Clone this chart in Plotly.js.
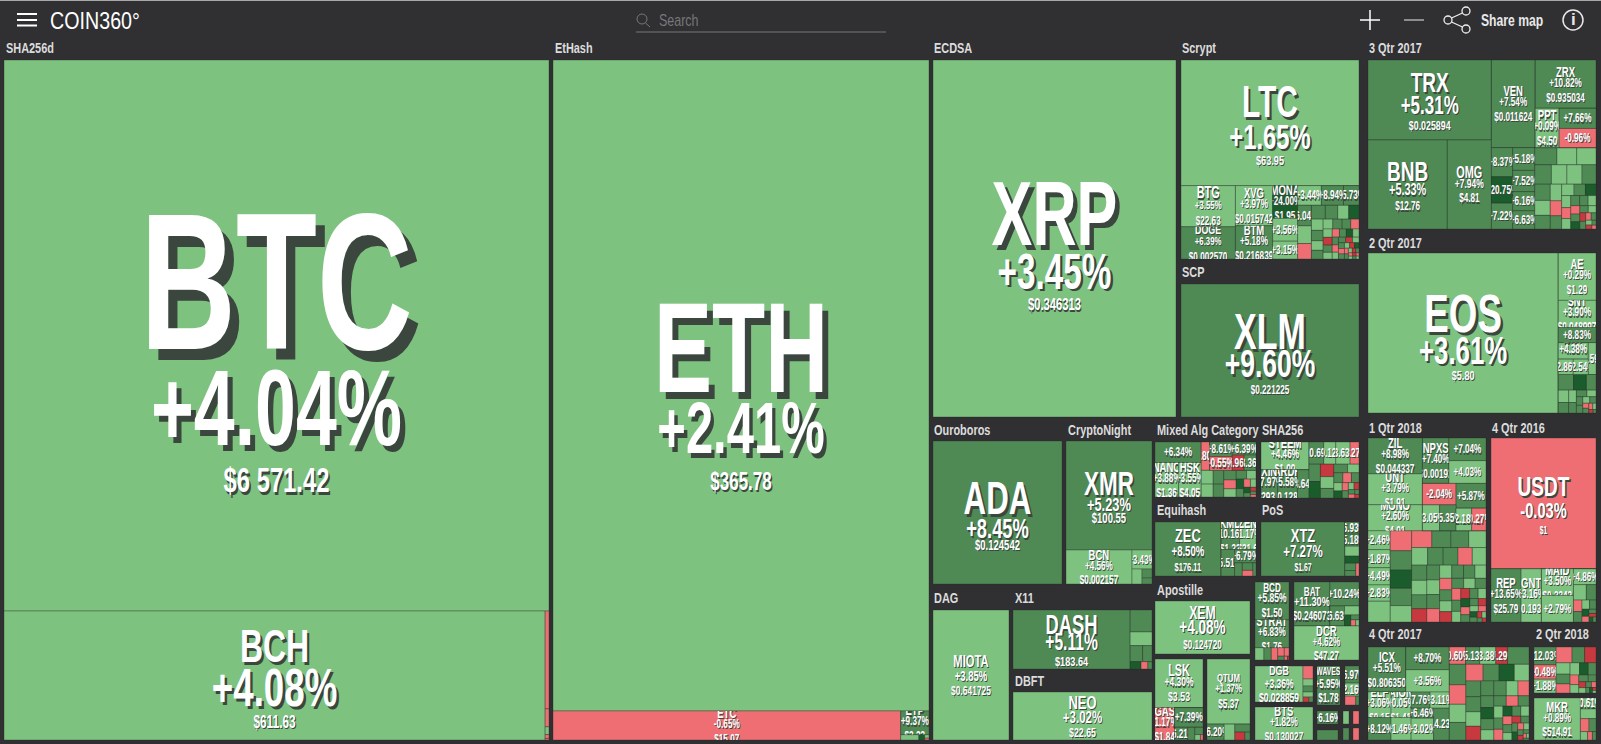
<!DOCTYPE html>
<html>
<head>
<meta charset="utf-8">
<script src="https://cdn.plot.ly/plotly-3.0.1.min.js"></script>
<style>html,body{margin:0;padding:0;background:#303033;overflow:hidden}#chart{width:1601px;height:744px}</style>
</head>
<body>
<div id="chart"></div>
<script>
// ---------- data: symbol, 24h change, price, block size, nesting ----------
const shaSym=['BTC','BCH'], shaChg=[4.04,4.08], shaPrice=['$6 571.42','$611.63'], shaCap=[300295,69800];
const shaTailCap=[380,70,30,15,6], shaTailChg=[-0.4,-0.6,2.1,-0.5,-1.2];
const ethSym=['ETH','ETC','ETP'], ethChg=[2.41,-0.65,9.37], ethPrice=['$365.78','$15.07','$2.23'], ethCap=[244400,10092,672];
const ethTailCap=[95,30,15,8], ethTailChg=[3.1,24,2.2,-0.4];
const xrpSym=['XRP'], xrpChg=[3.45], xrpPrice=['$0.346313'], xrpCap=[1];
const scrSym=['LTC','BTG','DOGE','XVG','BTM','MONA','','','','','',''], scrChg=[1.65,3.55,6.39,3.97,5.18,24,3.56,3.15,3.44,8.94,5.73,6.04];
const scrPrice=['$63.95','$22.63','$0.002570','$0.015742','$0.216839','$1.95','','','','','',''];
const scrCap=[22072,2214,1728,1476,1224,810,560,440,460,430,300,280];
const scrTailCap=[240,210,190,170,150,140,130,120,110,100,95,90,85,80,75,70,65,60,58,55,52,50,48,45,42,40,38,36,34,32,30,28,26,24,22,20,18,16,15,14,12,11,10,9,8];
const scrTailChg=[3,-1,6,7,3,25,2,6,3,7,3,6,7,-1,4,-6,7,3,-1,6,25,3,7,-1,2,6,-6,3,7,-1,6,3,-6,25,-1,7,3,-6,6,-1,2,-6,7,-1,3];
const xlmSym=['XLM'], xlmChg=[9.60], xlmPrice=['$0.221225'], xlmCap=[1];
const adaSym=['ADA'], adaChg=[8.45], adaPrice=['$0.124542'], adaCap=[1];
const xmrSym=['XMR','BCN',''], xmrChg=[5.23,4.56,3.43], xmrPrice=['$100.55','$0.002157',''], xmrCap=[9374,2244,380];
const xmrTailCap=[150,90,60], xmrTailChg=[3,7,6];
const mixSym=['','NANO','HSK','','','','','',''], mixChg=[6.34,3.88,3.55,-0.8,8.61,-0.55,6.39,-5.96,8.36];
const mixPrice=['','$1.36','$4.05','','','','','',''], mixCap=[1050,884,850,260,360,340,340,200,200];
const mixPath=['l','l/n','l/n','r/a','r/a/b','r/a/b','r/a/b','r/a/b','r/a/b'];
const mixTailCap=[180,170,160,150,130,120,110,100,90,80,70,60,50,40,30,25,20,15];
const mixTailChg=[3,3,7,6,7,-1,3,6,3,25,7,-1,3,25,6,-6,7,-1];
const sh2Sym=['STEEM','XIN','ARDR','','','','',''], sh2Chg=[4.46,7.97,5.58,8.64,10.69,0.12,3.63,-2.27];
const sh2Price=['$1.00','$293.6','$0.1284','','','','',''], sh2Cap=[1352,476,560,330,330,270,320,200];
const sh2Path=['l','l/n','l/n','l/n','r/a','r/a','r/a','r/a'];
const sh2TailCap=[200,190,170,160,130,120,100,90,85,75,70,60,50,45,40,35,30,25,20,15];
const sh2TailChg=[7.59,26,-6,3,7,6,3,7,-1,6,3,25,-1,7,3,-6,6,-1,7,-6];
const eqhSym=['ZEC','KMD','ZEN','',''], eqhChg=[8.50,10.16,1.17,5.51,6.79], eqhPrice=['$176.11','$1.33','$21.6','',''], eqhCap=[3564,504,448,360,288];
const eqhPath=['','r/a','r/a','r/b','r/b'];
const eqhTailCap=[100,80,60,40], eqhTailChg=[7,6,-1,7];
const posSym=['XTZ','',''], posChg=[7.27,6.93,5.18], posPrice=['$1.67','',''], posCap=[4536,170,170];
const posPath=['','r','r'];
const posTailCap=[140,100,80,60,40], posTailChg=[3,25,7,6,-1];
const iotSym=['MIOTA'], iotChg=[3.85], iotPrice=['$0.641725'], iotCap=[1];
const dshSym=['DASH'], dshChg=[5.11], dshPrice=['$183.64'], dshCap=[6903];
const dshTailCap=[480,300,200,150,80,50,30], dshTailChg=[7,3,6,7,25,-1,6];
const neoSym=['NEO'], neoChg=[3.02], neoPrice=['$22.65'], neoCap=[1];
const xemSym=['XEM'], xemChg=[4.08], xemPrice=['$0.124720'], xemCap=[1];
const lskSym=['LSK','GAS','',''], lskChg=[4.30,-1.17,7.39,6.21], lskPrice=['$3.53','$1.84','',''], lskCap=[2352,640,560,170];
const lskPath=['','r','r/s','r/s/t'];
const lskTailCap=[90,60,30,14], lskTailChg=[7,6,3,-1];
const qtmSym=['QTUM',''], qtmChg=[1.37,6.20], qtmPrice=['$5.37',''], qtmCap=[2795,272];
const qtmPath=['','r'];
const qtmTailCap=[170,120,80,40], qtmTailChg=[3,7,-7,6];
const bcdSym=['BCD','STRAT'], bcdChg=[5.85,6.83], bcdPrice=['$1.50','$1.76'], bcdCap=[1292,952];
const bcdTailCap=[110,90,80,55,40,25,12,6], bcdTailChg=[3,7,-1,-1,-1,7,-1,-6];
const batSym=['BAT','',''], batChg=[11.30,10.24,6.63], batPrice=['$0.246073','',''], batCap=[1584,696,290];
const batPath=['','r','r/s'];
const batTailCap=[130,70,40,30,20], batTailChg=[3,25,6,-1,3];
const dcrSym=['DCR'], dcrChg=[4.62], dcrPrice=['$47.27'], dcrCap=[1];
const dgbSym=['DGB'], dgbChg=[3.36], dgbPrice=['$0.028859'], dgbCap=[1728];
const dgbTailCap=[130,70,60,50,30,20], dgbTailChg=[-1,3,7,3,-6,6];
const btsSym=['BTS'], btsChg=[1.82], btsPrice=['$0.130027'], btsCap=[1];
const wavSym=['WAVES'], wavChg=[5.95], wavPrice=['$1.78'], wavCap=[1];
const xzcSym=['',''], xzcChg=[6.97,2.16], xzcPrice=['',''], xzcCap=[250,190];
const xzcTailCap=[100,30], xzcTailChg=[-1,7];
const q3Sym=['TRX','BNB','OMG','VEN','ZRX','PPT','','','','','','','','',''];
const q3Chg=[5.31,5.33,7.94,7.54,10.82,0.09,7.66,-0.96,8.37,20.75,7.22,5.18,7.52,6.16,6.63];
const q3Price=['$0.025894','$12.76','$4.81','$0.011624','$0.935034','$4.50','','','','','','','','',''];
const q3Cap=[9840,7031,3916,3828,2928,936,740,703,620,560,550,500,470,420,400];
const q3Path=['a','a/x','a/x','b/t','b/t/z','b/t/z/w','b/t/z/w/k','b/t/z/w/k','b/d','b/d','b/d','b/d','b/d','b/d','b/d'];
const q3TailCap=[380,340,330,320,300,290,270,250,230,210,190,170,150,140,130,120,110,100,95,90,85,80,75,70,65,60,55,50,45,40,35,30,25,20,15];
const q3TailChg=[7,1.3,1.4,7,2,3,7,6,3,8,3,-1,7,3,6,25,3,-1,2,6,7,3,-1,6,25,7,3,-6,7,-1,6,3,-6,7,-1];
const q2Sym=['EOS','AE','SNT','','BNT','','',''], q2Chg=[3.61,0.29,3.90,8.83,4.38,2.86,2.54,3.59];
const q2Price=['$5.80','$1.29','$0.048997','','$1.87','','',''], q2Cap=[30400,1786,1026,570,494,230,230,247];
const q2Path=['','r','r','r','r/s','r/s/u','r/s/u','r/s'];
const q2TailCap=[240,200,150,130,110,95,80,70,60,55,50,45,40,30,28,25,20,15,10];
const q2TailChg=[7,25,6,3,7,3,6,7,3,6,7,3,6,-1,7,-1,3,-6,6];
const q1Sym=['ZIL','UNT','MONO','NPXS','','','','','','','','','','','',''];
const q1Chg=[8.98,3.79,2.60,7.40,7.04,4.03,-2.04,3.05,5.35,5.87,2.18,-0.27,2.46,1.87,4.49,2.83];
const q1Price=['$0.044337','$1.91','$4.01','$0.00192','','','','','','','','','','','',''];
const q1Cap=[1944,1674,1404,1200,836,836,720,440,420,740,350,320,420,400,380,360];
const q1Path=['t/l','t/l','t/l','t/m/a','t/m/a/k','t/m/a/k','t/m/n/a','t/m/n/a/p','t/m/n/a/p','t/m/n/b','t/m/n/b/p','t/m/n/b/p','b','b','b','b'];
const q1TailCap=[460,430,410,390,370,350,340,320,300,290,280,270,260,250,240,230,220,210,200,190,185,180,170,160,155,150,145,140,135,130,125,120,115,110,105,100,95,90,85,80,75,70,65,60,55,50,45,40,35,30,25,20,15];
const q1TailChg=[3,-1,7,26,6,3,-1,7,6,3,3,7,6,-1,3,7,3,6,-5,7,3,6,-1,3,7,6,3,-1,7,3,-5,6,3,7,-1,6,3,-6,7,3,25,-1,6,7,-6,3,-1,25,6,-6,3,7,-6];
const q16Sym=['USDT','REP','GNT','MAID','',''], q16Chg=[-0.03,13.65,3.16,3.50,2.79,4.86], q16Price=['$1','$25.79','$0.1933','$0.3342','',''], q16Cap=[13860,1612,1092,858,858,360];
const q16Path=['','b','b','b/s/m','b/s/m','b/s/r'];
const q16TailCap=[200,150,100,90,70,60,50,40,30,25,20,15], q16TailChg=[3,7,-1,6,3,7,25,-1,6,-6,25,7];
const q4Sym=['ICX','','','ELF','AION','','','','','','','','','','',''];
const q4Chg=[5.51,8.70,3.56,3.06,0.05,8.12,1.46,7.76,3.11,6.46,3.02,14.23,-0.60,5.13,3.38,-5.29];
const q4Price=['$0.806350','','','$0.15','$1.41','','','','','','','','','','',''];
const q4Cap=[1665,960,940,575,500,506,440,300,300,220,480,480,280,240,270,200];
const q4Path=['l/t','l/t/x','l/t/x','l/b/p','l/b/p','l/b/p','l/b/p','l/b/q','l/b/q','l/b/q','l/b/q','l/b/q','r','r','r','r'];
const q4TailCap=[360,340,320,300,290,280,260,250,240,230,220,210,200,190,180,170,160,150,145,140,130,125,120,110,105,100,95,90,85,80,75,70,65,60,55,50,45,40,35,30,25,20,15,12,10];
const q4TailChg=[6,7,-1,3,6,-1,7,25,3,6,7,3,-6,7,6,3,-1,7,25,6,3,7,-1,6,3,7,-1,25,6,3,-1,7,3,-6,6,7,25,-1,3,7,-6,6,-1,3,7];
const q18Sym=['','',''], q18Chg=[12.03,-0.48,1.88], q18Price=['','',''], q18Cap=[375,300,290];
const q18TailCap=[240,190,170,150,130,120,110,100,90,80,70,60,50,40,35,30,25,20,15,10,8];
const q18TailChg=[-1,7,-6,3,7,-1,3,25,6,-1,3,7,6,-6,3,7,-1,6,25,-6,3];
const mkrSym=['MKR',''], mkrChg=[0.89,0.61], mkrPrice=['$514.91',''], mkrCap=[1932,170];
const mkrTailCap=[150,110,90,60,40,30], mkrTailChg=[3,-1,7,3,-1,7];

// ---------- layout of the blocks (pixels: x0,y0,x1,y1), nesting of labelled cells, nesting of the rest ----------
const blocks=[
 [shaSym,shaChg,shaPrice,shaCap,shaTailCap,shaTailChg,[4,60,549,740]],
 [ethSym,ethChg,ethPrice,ethCap,ethTailCap,ethTailChg,[553,60,929,740]],
 [xrpSym,xrpChg,xrpPrice,xrpCap,[],[],[933,60,1176,417]],
 [scrSym,scrChg,scrPrice,scrCap,scrTailCap,scrTailChg,[1181,60,1359,259]],
 [xlmSym,xlmChg,xlmPrice,xlmCap,[],[],[1181,284,1359,417]],
 [adaSym,adaChg,adaPrice,adaCap,[],[],[933,441,1062,584]],
 [xmrSym,xmrChg,xmrPrice,xmrCap,xmrTailCap,xmrTailChg,[1066,441,1152,584]],
 [mixSym,mixChg,mixPrice,mixCap,mixTailCap,mixTailChg,[1155,442,1256,497],mixPath,'r/c'],
 [sh2Sym,sh2Chg,sh2Price,sh2Cap,sh2TailCap,sh2TailChg,[1261,442,1359,498],sh2Path,'r/c'],
 [eqhSym,eqhChg,eqhPrice,eqhCap,eqhTailCap,eqhTailChg,[1155,522,1256,576],eqhPath,'r/b'],
 [posSym,posChg,posPrice,posCap,posTailCap,posTailChg,[1261,522,1359,576],posPath,'r'],
 [iotSym,iotChg,iotPrice,iotCap,[],[],[933,610,1009,740]],
 [dshSym,dshChg,dshPrice,dshCap,dshTailCap,dshTailChg,[1013,610,1152,669]],
 [neoSym,neoChg,neoPrice,neoCap,[],[],[1013,692,1152,740]],
 [xemSym,xemChg,xemPrice,xemCap,[],[],[1155,601,1250,654]],
 [lskSym,lskChg,lskPrice,lskCap,lskTailCap,lskTailChg,[1155,659,1203,740],lskPath,'r/s/t'],
 [qtmSym,qtmChg,qtmPrice,qtmCap,qtmTailCap,qtmTailChg,[1207,659,1250,740],qtmPath,'r'],
 [bcdSym,bcdChg,bcdPrice,bcdCap,bcdTailCap,bcdTailChg,[1255,582,1289,660]],
 [batSym,batChg,batPrice,batCap,batTailCap,batTailChg,[1294,582,1359,626],batPath,'r/s'],
 [dcrSym,dcrChg,dcrPrice,dcrCap,[],[],[1294,626,1359,660]],
 [dgbSym,dgbChg,dgbPrice,dgbCap,dgbTailCap,dgbTailChg,[1255,666,1313,702]],
 [btsSym,btsChg,btsPrice,btsCap,[],[],[1255,707,1313,740]],
 [wavSym,wavChg,wavPrice,wavCap,[],[],[1317,666,1340,705]],
 [xzcSym,xzcChg,xzcPrice,xzcCap,xzcTailCap,xzcTailChg,[1345,666,1359,705]],
 [[''],[6.16],[''],[1],[],[],[1317,711,1338,724]],
 [[],[],[],[],[1],[7.1],[1317,730,1338,740]],
 [[],[],[],[],[1],[3.2],[1343,711,1349,724]],
 [[],[],[],[],[1],[-1.4],[1353,711,1359,724]],
 [[],[],[],[],[1],[6.4],[1343,728,1349,740]],
 [[],[],[],[],[1],[-1.1],[1353,728,1359,740]],
 [q3Sym,q3Chg,q3Price,q3Cap,q3TailCap,q3TailChg,[1368,60,1596,229],q3Path,'b/d'],
 [q2Sym,q2Chg,q2Price,q2Cap,q2TailCap,q2TailChg,[1368,253,1596,413],q2Path,'r/t'],
 [q1Sym,q1Chg,q1Price,q1Cap,q1TailCap,q1TailChg,[1368,438,1486,622],q1Path,'b'],
 [q16Sym,q16Chg,q16Price,q16Cap,q16TailCap,q16TailChg,[1491,438,1596,622],q16Path,'b/s/r'],
 [q4Sym,q4Chg,q4Price,q4Cap,q4TailCap,q4TailChg,[1368,647,1529,740],q4Path,'r'],
 [q18Sym,q18Chg,q18Price,q18Cap,q18TailCap,q18TailChg,[1534,647,1596,693]],
 [mkrSym,mkrChg,mkrPrice,mkrCap,mkrTailCap,mkrTailChg,[1534,698,1596,740]]
];
const groupTitles=['SHA256d','EtHash','ECDSA','Scrypt','3 Qtr 2017','SCP','2 Qtr 2017','Ouroboros','CryptoNight','Mixed Alg Category','SHA256','1 Qtr 2018','4 Qtr 2016','Equihash','PoS','DAG','X11','Apostille','DBFT','4 Qtr 2017','2 Qtr 2018'];
const groupTitlePos=[[4,48],[553,48],[932,48],[1180,48],[1367,48],[1180,272],[1367,243],[932,430],[1066,430],[1155,430],[1260,430],[1367,428],[1490,428],[1155,510],[1260,510],[932,598],[1013,598],[1155,590],[1013,681],[1367,634],[1534,634]];

// label styles: symbol px, percent px, price px, gap symbol-percent, gap percent-price
const labelStyle={BTC:[195,108,35,97,48],ETH:[128,72,25,60,37],XRP:[90,49,16.5,43,22],LTC:[44,35,13.5,30,16],XLM:[50,39,12,29,17],
 EOS:[54,38,13.5,33,16],BCH:[47,54,17.5,42,22],ADA:[46,27,14,23,12],XMR:[33,19,14,16,12],BCN:[14,12,12,11,15],MIOTA:[16.5,14,12.5,15,14],DASH:[27,23,13.5,18,16],
 NEO:[19,17,13,16,14],XEM:[18,20,12,17,15],ZEC:[19,14,11,13,15],XTZ:[19,17,10,15,15],TRX:[28,25,13,21,16],BNB:[28,16,12,15,15],
 OMG:[16,12.5,12,12,15],USDT:[28,21.5,10,20,16],LSK:[16,12.5,13,12,15],QTUM:[11.5,11.5,12,11,16],BCD:[12,12.5,12,11,15],BAT:[12,13.5,12,11,15],
 DGB:[13,12.5,12.5,13,14],WAVES:[10,12,12,12,14],BTG:[16,11.5,12,11,16],DOGE:[13,11.5,12,11,16]};
const defaultStyle=[14,12,12,11,15];
const FONT='"Liberation Sans",Arial,sans-serif';
const BG='#303033';
const TEXT_SQUEEZE=0.68;

function colorOf(c){
  if(c<=-3) return '#c8383f';
  if(c<0) return '#ee6e73';
  if(c<5) return '#7dc27f';
  if(c<20) return '#4f8a55';
  return '#1b5c2c';
}
function fmt(c){return (c>=0?'+':'')+c.toFixed(2)+'%';}
function span(t,f){
  const dx=Math.max(1,0.06*f).toFixed(1),dy=Math.max(1,0.052*f).toFixed(1);
  return `<span style="font-size:${f}px;text-shadow:${dx}px ${dy}px 0 #3b463e">${t}</span>`;
}
function labelOf(sym,chg,price){
  if(sym){
    const st=labelStyle[sym]||defaultStyle;
    const step=st[4]/3, a=Math.max(1,Math.round(st[3]/step));
    return {text:span(sym,st[0])+'<br>'.repeat(a)+span(fmt(chg),st[1])+'<br>'.repeat(3)+span(price,st[2]),size:step/1.3};
  }
  return {text:span(fmt(chg),12),size:12};
}

const traces=blocks.map((b,i)=>{
  const [sym,chg,price,cap,tailCap,tailChg,r,paths,tailPath]=b;
  const root='g'+i;
  const ids=[root],labels=[''],parents=[''],values=[0],colors=[BG],texts=[''],sizes=[10];
  const node=(path)=>{
    let cur=root;
    (path||'').split('/').filter(Boolean).forEach(seg=>{
      const next=cur+'/'+seg;
      if(!ids.includes(next)){ids.push(next);labels.push(next);parents.push(cur);values.push(0);colors.push(BG);texts.push('');sizes.push(10);}
      cur=next;
    });
    return cur;
  };
  const add=(id,parent,v,c,l)=>{ids.push(id);labels.push(id);parents.push(parent);values.push(v);colors.push(colorOf(c));texts.push(l.text);sizes.push(l.size);};
  sym.forEach((s,k)=>{const p=node(paths?paths[k]:'');add(root+'#c'+k,p,cap[k],chg[k],labelOf(s,chg[k],price[k]));});
  tailCap.forEach((v,k)=>{const p=node(tailPath);add(root+'#t'+k,p,v,tailChg[k],{text:'',size:10});});
  return {
    type:'treemap',ids,labels,parents,values,text:texts,textinfo:'text',branchvalues:'remainder',sort:false,
    textposition:'middle center',hoverinfo:'skip',
    textfont:{family:FONT,size:sizes,color:'#ffffff',weight:700,shadow:'none'},
    marker:{colors,line:{color:'rgba(40,50,40,0.35)',width:1},pad:{t:0,l:0,r:0,b:0},depthfade:false},
    tiling:{packing:'squarify',squarifyratio:1,pad:0},
    pathbar:{visible:false},leaf:{opacity:1},
    domain:{x:[r[0]/1601,r[2]/1601],y:[1-r[3]/744,1-r[1]/744]}
  };
});

// ---------- header and group titles ----------
const px=x=>x/1601, py=y=>1-y/744;
const annotSqueeze=[];
const note=(t,x,y,size,color,anchor,weight,sq)=>{annotSqueeze.push(sq||1);return {text:t,x:px(x),y:py(y),xref:'paper',yref:'paper',showarrow:false,xanchor:anchor||'left',yanchor:'middle',
  font:{family:FONT,size,color,weight:weight||400}};};
const annotations=groupTitles.map((t,i)=>note(t,groupTitlePos[i][0],groupTitlePos[i][1],14,'#dcdcdc','left',700,0.78));
annotations.push(note('COIN360°',48,21,24,'#ffffff','left',400,0.82));
annotations.push(note('Search',657,21,16,'#77777a','left',400,0.78));
annotations.push(note('Share map',1479,21,16,'#e8e8e8','left',700,0.76));
annotations.push(note('i',1573,20,17,'#e8e8e8','center',700,1));
const line=(x0,y0,x1,y1,c,w)=>({type:'line',xref:'paper',yref:'paper',x0:px(x0),y0:py(y0),x1:px(x1),y1:py(y1),line:{color:c,width:w}});
const circle=(cx,cy,r,c,w)=>({type:'circle',xref:'paper',yref:'paper',x0:px(cx-r),x1:px(cx+r),y0:py(cy+r),y1:py(cy-r),line:{color:c,width:w}});
const shapes=[
 line(0,0.5,1601,0.5,'#a8a8a8',1),
 line(17,14,37,14,'#fff',2),line(17,20,37,20,'#fff',2),line(17,25.5,37,25.5,'#fff',2),
 circle(642,19,5,'#77777a',1),line(645.5,23,650,27,'#77777a',1),
 line(636,32,886,32,'#77777a',1),
 line(1360,20,1380,20,'#fff',1.5),line(1370,10,1370,30,'#fff',1.5),
 line(1404,20,1424,20,'#ccc',1.2),
 circle(1448,20,4,'#eee',1.3),circle(1466,11,4,'#eee',1.3),circle(1466,29,4,'#eee',1.3),
 line(1451.5,18,1462.5,13,'#eee',1.3),line(1451.5,22,1462.5,27,'#eee',1.3),
 circle(1573,20,10,'#e8e8e8',1.5)
];

Plotly.newPlot('chart',traces,{
  width:1601,height:744,margin:{l:0,r:0,t:0,b:0},paper_bgcolor:BG,plot_bgcolor:BG,showlegend:false,
  annotations,shapes
},{displayModeBar:false,staticPlot:true}).then(()=>{
  // The reference's lettering is condensed and overflowing text is cut at the cell edge:
  // centre each label in its cell, condense it, and clip it to the cell.
  const svg=document.querySelector('.main-svg');
  const defs=document.createElementNS('http://www.w3.org/2000/svg','defs');
  svg.appendChild(defs);
  let n=0;
  document.querySelectorAll('.treemaplayer g.slice').forEach(g=>{
    const t=g.querySelector('g.slicetext text'), p=g.querySelector('path.surface');
    if(!t||!p||!t.textContent) return;
    t.removeAttribute('transform');
    const tb=t.getBBox(), cb=p.getBBox();
    const cx=cb.x+cb.width/2, cy=cb.y+cb.height/2;
    t.setAttribute('transform',`translate(${cx},${cy}) scale(${TEXT_SQUEEZE},1) translate(${-(tb.x+tb.width/2)},${-(tb.y+tb.height/2)})`);
    const id='cellclip'+(n++);
    const cp=document.createElementNS('http://www.w3.org/2000/svg','clipPath');
    cp.setAttribute('id',id);
    const cr=document.createElementNS('http://www.w3.org/2000/svg','rect');
    cr.setAttribute('x',cb.x);cr.setAttribute('y',cb.y);cr.setAttribute('width',cb.width);cr.setAttribute('height',cb.height);
    cp.appendChild(cr);defs.appendChild(cp);
    t.parentNode.setAttribute('clip-path',`url(#${id})`);
  });
  document.querySelectorAll('.annotation').forEach((a,i)=>{
    const t=a.querySelector('text'), s=annotSqueeze[i];
    if(!t||s===1) return;
    const r=t.getBBox(), old=t.getAttribute('transform')||'';
    t.setAttribute('transform',`translate(${r.x},0) scale(${s},1) translate(${-r.x},0) ${old}`);
  });
});
</script>
</body>
</html>
